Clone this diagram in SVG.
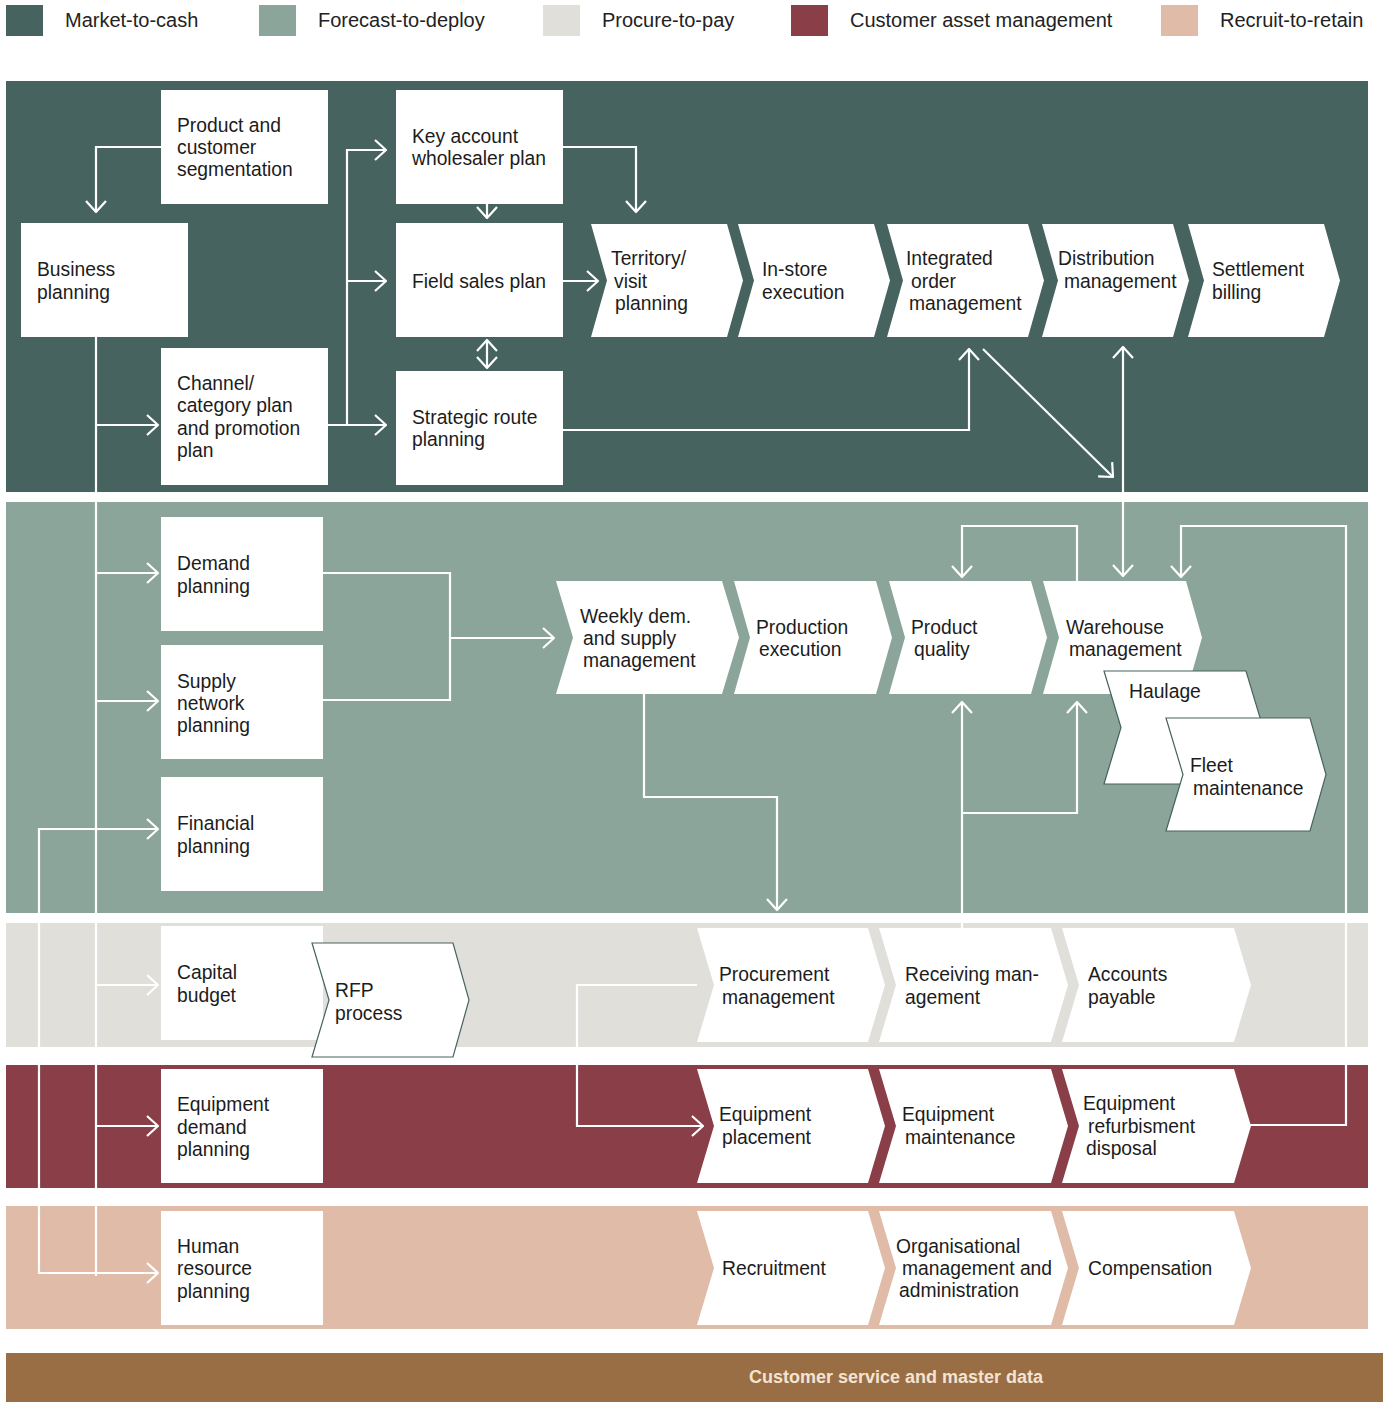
<svg xmlns="http://www.w3.org/2000/svg" width="1383" height="1402" viewBox="0 0 1383 1402">
  <defs>
    <style>
      text { font-family: "Liberation Sans", Arial, sans-serif; font-size: 19.3px; fill: #1c1c1c; }
      .legend { font-size: 20px; fill: #222; }
      .box { fill: #ffffff; }
      .chev { fill: #ffffff; }
      .chev-o { fill: #ffffff; stroke: #46635f; stroke-width: 1.2; }
      .wire { fill: none; stroke: #ffffff; stroke-width: 2.2; }
      .wire-a { fill: none; stroke: #ffffff; stroke-width: 2.2; marker-end: url(#tip); }
      .wire-b { fill: none; stroke: #ffffff; stroke-width: 2.2; marker-start: url(#tip); marker-end: url(#tip); }
      .footer { font-weight: bold; font-size: 18px; fill: #f3e4d2; }
    </style>
    <marker id="tip" markerUnits="userSpaceOnUse" viewBox="-13 -12 15 24" refX="0" refY="0" markerWidth="15" markerHeight="24" orient="auto-start-reverse">
      <path d="M-11,-10 L0,0 L-11,10" fill="none" stroke="#ffffff" stroke-width="2.2" stroke-linejoin="round"/>
    </marker>
  </defs>

  <rect width="1383" height="1402" fill="#ffffff"/>

  <!-- legend -->
  <g id="legend">
    <rect x="6" y="5" width="37" height="31" fill="#46635f"/>
    <text class="legend" x="65" y="27">Market-to-cash</text>
    <rect x="259" y="5" width="37" height="31" fill="#8ba59a"/>
    <text class="legend" x="318" y="27">Forecast-to-deploy</text>
    <rect x="543" y="5" width="37" height="31" fill="#e0dfda"/>
    <text class="legend" x="602" y="27">Procure-to-pay</text>
    <rect x="791" y="5" width="37" height="31" fill="#8a3f48"/>
    <text class="legend" x="850" y="27">Customer asset management</text>
    <rect x="1161" y="5" width="37" height="31" fill="#e0bba8"/>
    <text class="legend" x="1220" y="27">Recruit-to-retain</text>
  </g>

  <!-- process bands -->
  <g id="bands">
    <rect x="6" y="81" width="1362" height="411" fill="#46635f"/>
    <rect x="6" y="502" width="1362" height="411" fill="#8ba59a"/>
    <rect x="6" y="923" width="1362" height="124" fill="#e0dfda"/>
    <rect x="6" y="1065" width="1362" height="123" fill="#8a3f48"/>
    <rect x="6" y="1206" width="1362" height="123" fill="#e0bba8"/>
  </g>

  <!-- connectors -->
  <g id="connectors">
    <path class="wire-a" d="M161,147 H96 V212"/>
    <path class="wire" d="M96,337 V1276"/>
    <path class="wire-a" d="M96,425 H158"/>
    <path class="wire-a" d="M96,573 H158"/>
    <path class="wire-a" d="M96,701 H158"/>
    <path class="wire-a" d="M96,985 H158"/>
    <path class="wire-a" d="M96,1126 H158"/>
    <path class="wire-a" d="M96,1273 H158"/>
    <path class="wire-a" d="M96,1273 H39 V829 H158"/>
    <path class="wire-a" d="M328,425 H386"/>
    <path class="wire-a" d="M347,425 V150 H386"/>
    <path class="wire-a" d="M347,281 H386"/>
    <path class="wire-a" d="M487,204 V218"/>
    <path class="wire-b" d="M487,340 V368"/>
    <path class="wire-a" d="M563,147 H636 V212"/>
    <path class="wire-a" d="M563,281 H598"/>
    <path class="wire-a" d="M563,430 H969 V349"/>
    <path class="wire-a" d="M983,349 L1113,477"/>
    <path class="wire-b" d="M1123,347 V576"/>
    <path class="wire" d="M323,573 H450 V700 H323"/>
    <path class="wire-a" d="M450,638 H554"/>
    <path class="wire-a" d="M644,694 V797 H777 V910"/>
    <path class="wire-a" d="M1077,581 V526 H962 V577"/>
    <path class="wire-a" d="M1250,1125 H1346 V526 H1181 V577"/>
    <path class="wire-a" d="M962,928 V702"/>
    <path class="wire-a" d="M962,813 H1077 V702"/>
    <path class="wire-a" d="M697,985 H577 V1126 H703"/>
  </g>

  <!-- market-to-cash -->
  <g id="product-customer-segmentation">
    <rect class="box" x="161" y="90" width="167" height="114"/>
    <text><tspan x="177" y="132">Product and</tspan><tspan x="177" y="154">customer</tspan><tspan x="177" y="176">segmentation</tspan></text>
  </g>
  <g id="business-planning">
    <rect class="box" x="21" y="223" width="167" height="114"/>
    <text><tspan x="37" y="276">Business</tspan><tspan x="37" y="299">planning</tspan></text>
  </g>
  <g id="channel-category-plan">
    <rect class="box" x="161" y="348" width="167" height="137"/>
    <text><tspan x="177" y="390">Channel/</tspan><tspan x="177" y="412">category plan</tspan><tspan x="177" y="435">and promotion</tspan><tspan x="177" y="457">plan</tspan></text>
  </g>
  <g id="key-account-plan">
    <rect class="box" x="396" y="90" width="167" height="114"/>
    <text><tspan x="412" y="143">Key account</tspan><tspan x="412" y="165">wholesaler plan</tspan></text>
  </g>
  <g id="field-sales-plan">
    <rect class="box" x="396" y="223" width="167" height="114"/>
    <text x="412" y="288">Field sales plan</text>
  </g>
  <g id="strategic-route-planning">
    <rect class="box" x="396" y="371" width="167" height="114"/>
    <text><tspan x="412" y="424">Strategic route</tspan><tspan x="412" y="446">planning</tspan></text>
  </g>
  <g id="territory-visit-planning">
    <polygon class="chev" points="591,224 727,224 743,280.5 727,337 591,337 607,280.5"/>
    <text><tspan x="611" y="265">Territory/</tspan><tspan x="614" y="288">visit</tspan><tspan x="615" y="310">planning</tspan></text>
  </g>
  <g id="in-store-execution">
    <polygon class="chev" points="738,224 874,224 890,280.5 874,337 738,337 754,280.5"/>
    <text><tspan x="762" y="276">In-store</tspan><tspan x="762" y="299">execution</tspan></text>
  </g>
  <g id="integrated-order-management">
    <polygon class="chev" points="887,224 1028,224 1044,280.5 1028,337 887,337 903,280.5"/>
    <text><tspan x="906" y="265">Integrated</tspan><tspan x="911" y="288">order</tspan><tspan x="909" y="310">management</tspan></text>
  </g>
  <g id="distribution-management">
    <polygon class="chev" points="1042,224 1173,224 1189,280.5 1173,337 1042,337 1058,280.5"/>
    <text><tspan x="1058" y="265">Distribution</tspan><tspan x="1064" y="288">management</tspan></text>
  </g>
  <g id="settlement-billing">
    <polygon class="chev" points="1188,224 1324,224 1340,280.5 1324,337 1188,337 1204,280.5"/>
    <text><tspan x="1212" y="276">Settlement</tspan><tspan x="1212" y="299">billing</tspan></text>
  </g>

  <!-- forecast-to-deploy -->
  <g id="demand-planning">
    <rect class="box" x="161" y="517" width="162" height="114"/>
    <text><tspan x="177" y="570">Demand</tspan><tspan x="177" y="593">planning</tspan></text>
  </g>
  <g id="supply-network-planning">
    <rect class="box" x="161" y="645" width="162" height="114"/>
    <text><tspan x="177" y="688">Supply</tspan><tspan x="177" y="710">network</tspan><tspan x="177" y="732">planning</tspan></text>
  </g>
  <g id="financial-planning">
    <rect class="box" x="161" y="777" width="162" height="114"/>
    <text><tspan x="177" y="830">Financial</tspan><tspan x="177" y="853">planning</tspan></text>
  </g>
  <g id="weekly-demand-supply">
    <polygon class="chev" points="556,581 722,581 739,637.5 722,694 556,694 573,637.5"/>
    <text><tspan x="580" y="623">Weekly dem.</tspan><tspan x="583" y="645">and supply</tspan><tspan x="583" y="667">management</tspan></text>
  </g>
  <g id="production-execution">
    <polygon class="chev" points="734,581 876,581 892,637.5 876,694 734,694 750,637.5"/>
    <text><tspan x="756" y="634">Production</tspan><tspan x="759" y="656">execution</tspan></text>
  </g>
  <g id="product-quality">
    <polygon class="chev" points="889,581 1031,581 1047,637.5 1031,694 889,694 905,637.5"/>
    <text><tspan x="911" y="634">Product</tspan><tspan x="914" y="656">quality</tspan></text>
  </g>
  <g id="warehouse-management">
    <polygon class="chev" points="1043,581 1186,581 1202,637.5 1186,694 1043,694 1059,637.5"/>
    <text><tspan x="1066" y="634">Warehouse</tspan><tspan x="1069" y="656">management</tspan></text>
  </g>
  <g id="haulage">
    <polygon class="chev-o" points="1104,671 1246,671 1263,727.5 1246,784 1104,784 1121,727.5"/>
    <text x="1129" y="698">Haulage</text>
  </g>
  <g id="fleet-maintenance">
    <polygon class="chev-o" points="1166,718 1310,718 1326,774.5 1310,831 1166,831 1183,774.5"/>
    <text><tspan x="1190" y="772">Fleet</tspan><tspan x="1193" y="795">maintenance</tspan></text>
  </g>

  <!-- procure-to-pay -->
  <g id="capital-budget">
    <rect class="box" x="161" y="926" width="162" height="114"/>
    <text><tspan x="177" y="979">Capital</tspan><tspan x="177" y="1002">budget</tspan></text>
  </g>
  <g id="rfp-process">
    <polygon class="chev-o" points="312,943 453,943 469,1000 453,1057 312,1057 329,1000"/>
    <text><tspan x="335" y="997">RFP</tspan><tspan x="335" y="1020">process</tspan></text>
  </g>
  <g id="procurement-management">
    <polygon class="chev" points="697,928 868,928 885,985 868,1042 697,1042 714,985"/>
    <text><tspan x="719" y="981">Procurement</tspan><tspan x="722" y="1004">management</tspan></text>
  </g>
  <g id="receiving-management">
    <polygon class="chev" points="879,928 1051,928 1068,985 1051,1042 879,1042 896,985"/>
    <text><tspan x="905" y="981">Receiving man-</tspan><tspan x="905" y="1004">agement</tspan></text>
  </g>
  <g id="accounts-payable">
    <polygon class="chev" points="1062,928 1234,928 1251,985 1234,1042 1062,1042 1079,985"/>
    <text><tspan x="1088" y="981">Accounts</tspan><tspan x="1088" y="1004">payable</tspan></text>
  </g>

  <!-- customer asset management -->
  <g id="equipment-demand-planning">
    <rect class="box" x="161" y="1069" width="162" height="114"/>
    <text><tspan x="177" y="1111">Equipment</tspan><tspan x="177" y="1134">demand</tspan><tspan x="177" y="1156">planning</tspan></text>
  </g>
  <g id="equipment-placement">
    <polygon class="chev" points="697,1069 868,1069 885,1126 868,1183 697,1183 714,1126"/>
    <text><tspan x="719" y="1121">Equipment</tspan><tspan x="722" y="1144">placement</tspan></text>
  </g>
  <g id="equipment-maintenance">
    <polygon class="chev" points="879,1069 1051,1069 1068,1126 1051,1183 879,1183 896,1126"/>
    <text><tspan x="902" y="1121">Equipment</tspan><tspan x="905" y="1144">maintenance</tspan></text>
  </g>
  <g id="equipment-refurbishment-disposal">
    <polygon class="chev" points="1062,1069 1234,1069 1251,1126 1234,1183 1062,1183 1079,1126"/>
    <text><tspan x="1083" y="1110">Equipment</tspan><tspan x="1088" y="1133">refurbisment</tspan><tspan x="1086" y="1155">disposal</tspan></text>
  </g>

  <!-- recruit-to-retain -->
  <g id="human-resource-planning">
    <rect class="box" x="161" y="1211" width="162" height="114"/>
    <text><tspan x="177" y="1253">Human</tspan><tspan x="177" y="1275">resource</tspan><tspan x="177" y="1298">planning</tspan></text>
  </g>
  <g id="recruitment">
    <polygon class="chev" points="697,1211 868,1211 885,1268 868,1325 697,1325 714,1268"/>
    <text x="722" y="1275">Recruitment</text>
  </g>
  <g id="organisational-management">
    <polygon class="chev" points="879,1211 1051,1211 1068,1268 1051,1325 879,1325 896,1268"/>
    <text><tspan x="896" y="1253">Organisational</tspan><tspan x="902" y="1275">management and</tspan><tspan x="899" y="1297">administration</tspan></text>
  </g>
  <g id="compensation">
    <polygon class="chev" points="1062,1211 1234,1211 1251,1268 1234,1325 1062,1325 1079,1268"/>
    <text x="1088" y="1275">Compensation</text>
  </g>

  <!-- shared foundation bar -->
  <g id="customer-service-master-data">
    <rect x="6" y="1353" width="1377" height="49" fill="#9a6e45"/>
    <text class="footer" x="896" y="1383" text-anchor="middle">Customer service and master data</text>
  </g>
</svg>
